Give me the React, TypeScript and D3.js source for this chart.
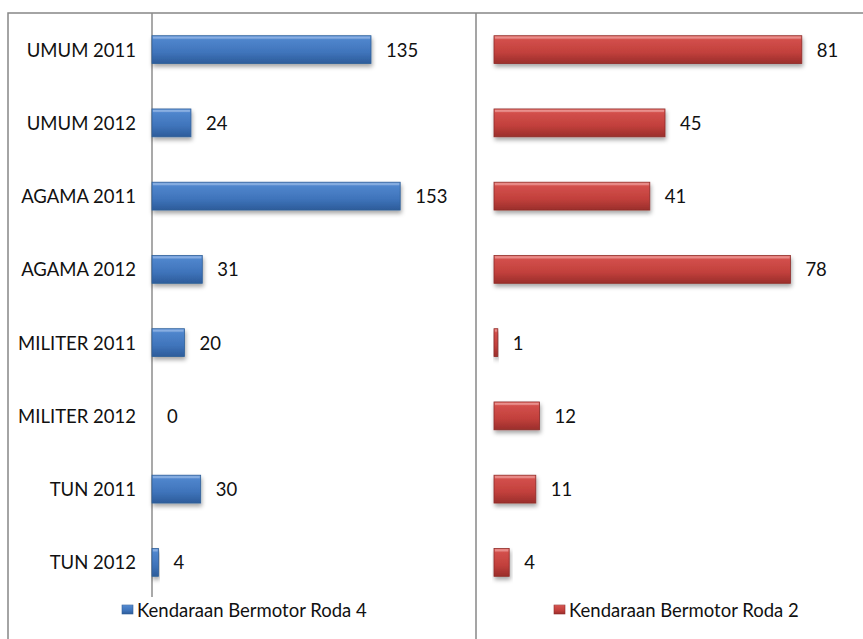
import React from "react";
import * as d3 from "d3";

const categories = ["UMUM 2011", "UMUM 2012", "AGAMA 2011", "AGAMA 2012", "MILITER 2011", "MILITER 2012", "TUN 2011", "TUN 2012"];
const roda4 = [135, 24, 153, 31, 20, 0, 30, 4];
const roda2 = [81, 45, 41, 78, 1, 12, 11, 4];
const seriesNames = ["Kendaraan Bermotor Roda 4", "Kendaraan Bermotor Roda 2"];

const W = 863, H = 639;
const FONT = "Lato, 'Open Sans', sans-serif";
const FS = 18.5;

export default function App() {
  const y = d3.scaleBand<string>().domain(categories).range([13, 599]).paddingInner(0.62).paddingOuter(0.31);
  const xL = d3.scaleLinear().domain([0, 180]).range([152, 152 + 292]);
  const xR = d3.scaleLinear().domain([0, 90]).range([494, 494 + 342]);
  const bh = y.bandwidth();

  const panels = [
    { vals: roda4, x: xL, grad: "gBlue", stroke: "#2f5f98" },
    { vals: roda2, x: xR, grad: "gRed", stroke: "#8e2b28" },
  ];

  return (
    <svg width={W} height={H} style={{ position: "absolute", left: 0, top: 0, background: "#fff" }} fontFamily={FONT}>
      <defs>
        <linearGradient id="gBlue" x1="0" y1="0" x2="0" y2="1">
          <stop offset="0" stopColor="#6d9de0" />
          <stop offset="0.15" stopColor="#4f85cc" />
          <stop offset="0.6" stopColor="#3f74bb" />
          <stop offset="1" stopColor="#2d5c9a" />
        </linearGradient>
        <linearGradient id="gRed" x1="0" y1="0" x2="0" y2="1">
          <stop offset="0" stopColor="#ec7a76" />
          <stop offset="0.15" stopColor="#d24f4b" />
          <stop offset="0.6" stopColor="#c2403c" />
          <stop offset="1" stopColor="#9a2e2b" />
        </linearGradient>
        <filter id="shadow" x="-10%" y="-30%" width="130%" height="180%">
          <feDropShadow dx="1" dy="3" stdDeviation="2" floodColor="#000" floodOpacity="0.35" />
        </filter>
      </defs>
      {/* frame */}
      <rect x={8} y={13} width={W + 20} height={H + 20} fill="none" stroke="#878787" strokeWidth={1.5} />
      <line x1={476} x2={476} y1={13} y2={H + 5} stroke="#878787" strokeWidth={1.5} />
      {/* axis */}
      <line x1={152} x2={152} y1={13} y2={597} stroke="#8c8c8c" strokeWidth={1.5} />
      {categories.map((c) => (
        <text key={c} x={136} y={y(c)! + bh / 2} textAnchor="end" dominantBaseline="central" fontSize={FS} fill="#111">
          {c}
        </text>
      ))}
      {panels.map((p, pi) => (
        <g key={pi}>
          {p.vals.map((v, i) => {
            const c = categories[i];
            const x0 = p.x(0), x1 = p.x(v);
            const yy = y(c)!;
            return (
              <g key={c}>
                {v > 0 && (
                  <g filter="url(#shadow)">
                    <rect x={x0} y={yy} width={x1 - x0} height={bh} fill={`url(#${p.grad})`} stroke={p.stroke} strokeWidth={0.8} />
                    <rect x={x0 + 1} y={yy + 1} width={Math.max(0, x1 - x0 - 2)} height={2} fill="#fff" opacity={0.25} />
                  </g>
                )}
                <text x={x1 + 15} y={yy + bh / 2} dominantBaseline="central" fontSize={FS} fill="#111">
                  {v}
                </text>
              </g>
            );
          })}
        </g>
      ))}
      {/* legends */}
      {[{ x: 122, g: "gBlue", s: "#2f5f98" }, { x: 554, g: "gRed", s: "#8e2b28" }].map((l, i) => (
        <g key={i}>
          <rect x={l.x} y={605} width={11} height={9} fill={`url(#${l.g})`} stroke={l.s} strokeWidth={0.6} />
          <text x={l.x + 15} y={610} dominantBaseline="central" fontSize={FS} fill="#111">
            {seriesNames[i]}
          </text>
        </g>
      ))}
    </svg>
  );
}
